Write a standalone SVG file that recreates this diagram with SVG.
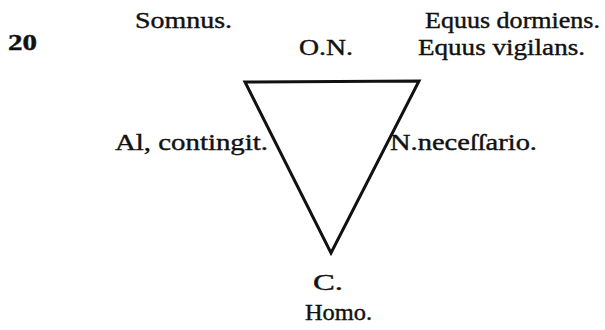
<svg xmlns="http://www.w3.org/2000/svg" width="605" height="330" viewBox="0 0 605 330">
<style>
text{font-family:'Liberation Serif','DejaVu Serif','Times New Roman',serif;font-size:23px;fill:#111;stroke:#111;stroke-width:0.4}
.edge{fill:none;stroke:#111;stroke-width:3;stroke-linejoin:miter}
</style>
<rect width="605" height="330" fill="#fff"/>
<g id="connectors">
<polygon class="edge" points="245,82 419,81 331,253"/>
</g>
<g id="page"><text x="8" y="50" font-weight="bold" textLength="29" lengthAdjust="spacingAndGlyphs">20</text></g>
<g id="somnus"><text x="135" y="28" textLength="97" lengthAdjust="spacingAndGlyphs">Somnus.</text></g>
<g id="on"><text x="299" y="55" textLength="54" lengthAdjust="spacingAndGlyphs">O.N.</text></g>
<g id="equus-dormiens"><text x="425" y="28" textLength="175" lengthAdjust="spacingAndGlyphs">Equus dormiens.</text></g>
<g id="equus-vigilans"><text x="418" y="55" textLength="167" lengthAdjust="spacingAndGlyphs">Equus vigilans.</text></g>
<g id="al"><text x="115" y="150" textLength="153" lengthAdjust="spacingAndGlyphs">Al, contingit.</text></g>
<g id="n"><text x="390" y="150" textLength="147" lengthAdjust="spacingAndGlyphs">N.neceſſario.</text></g>
<g id="c"><text x="313" y="290" textLength="30" lengthAdjust="spacingAndGlyphs">C.</text></g>
<g id="homo"><text x="305" y="320" textLength="67" lengthAdjust="spacingAndGlyphs">Homo.</text></g>
</svg>
